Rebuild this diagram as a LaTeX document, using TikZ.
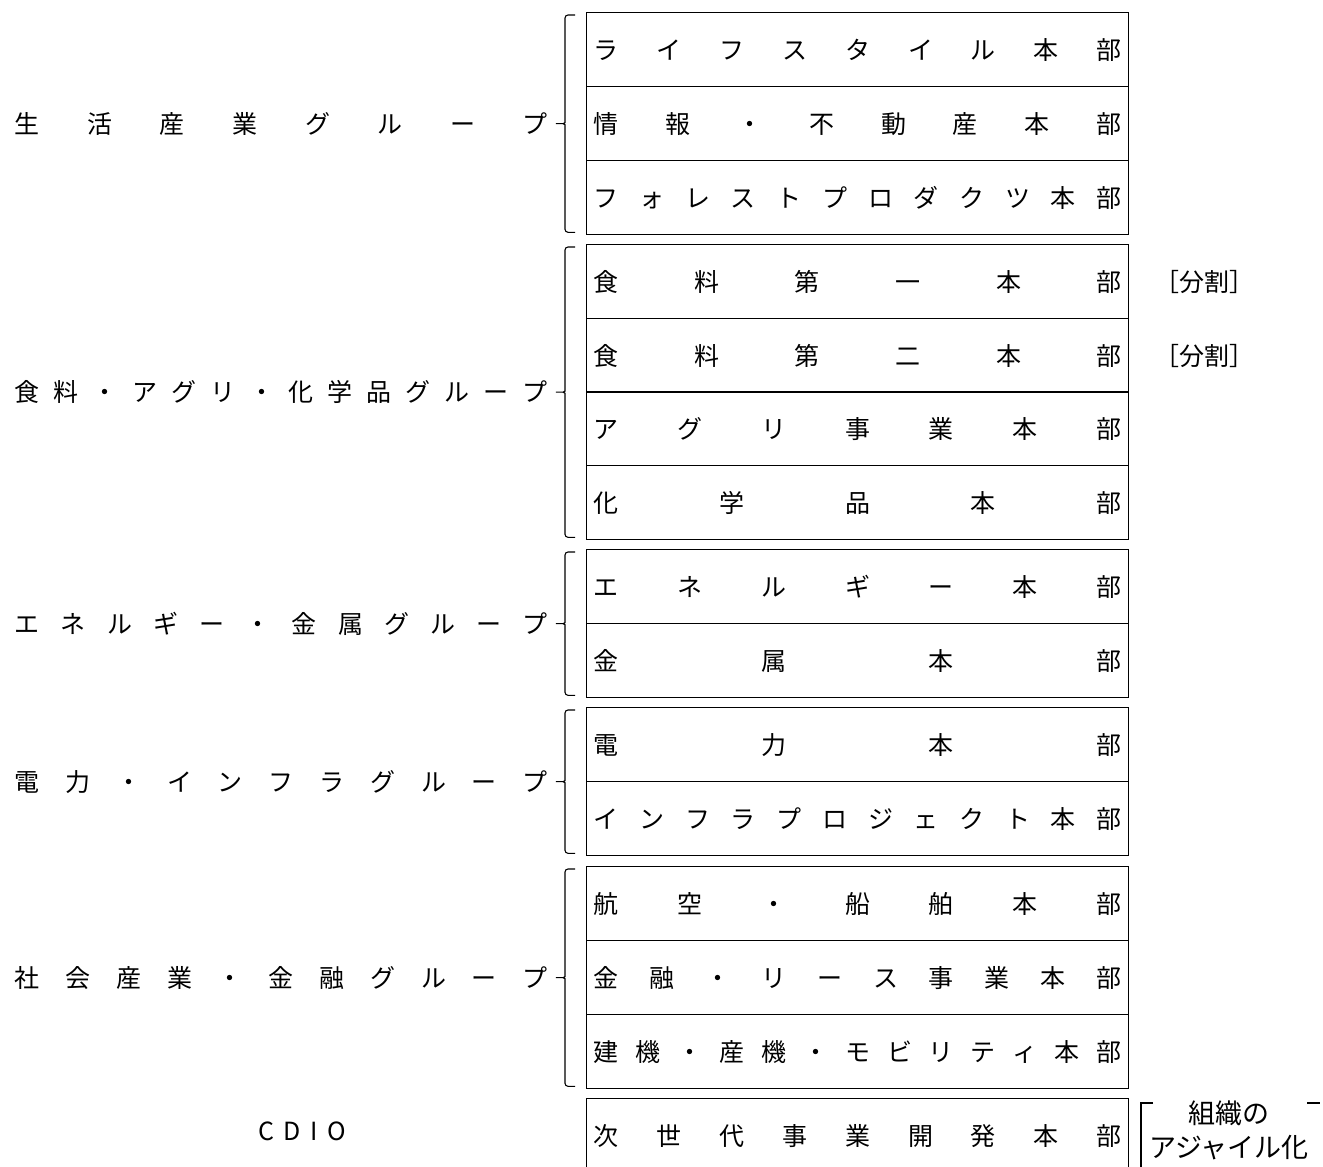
\documentclass[tikz,border=0pt]{standalone}
\usepackage{fontspec}
\setmainfont{Noto Sans CJK JP}
\usetikzlibrary{positioning,calc}

\newcommand\spreadtxt[1]{\expandafter\spreadchr#1\relax\relax}
\def\spreadchr#1#2{#1\ifx\relax#2\else\hfill\expandafter\spreadchr\expandafter#2\fi}

\tikzset{
  unitbox/.style={draw,line width=1.3pt,anchor=north west,minimum width=542pt,minimum height=74pt,inner sep=0pt},
  grouplabel/.style={inner sep=0pt},
  brace line/.style={line width=1.1pt,rounded corners=3pt},
}

\newcommand\grpbrace[4]{%
  \coordinate (bt) at ($(#1.north west)+(-11,3)$);
  \coordinate (bb) at ($(#2.south west)+(-11,-3)$);
  \coordinate (bm) at ($(bt)!0.5!(bb)+(-21,0)$);
  \draw[brace line] (bt) -- ++(-10,0) -- ($(bm)+(11,-4)$)
    .. controls ($(bm)+(11,-1)$) and ($(bm)+(9,0)$) .. ($(bm)+(6,0)$) -- (bm)
    -- ($(bm)+(6,0)$) .. controls ($(bm)+(9,0)$) and ($(bm)+(11,1)$) .. ($(bm)+(11,4)$)
    -- ($(bb)+(-10,0)$) -- (bb);
  \node[grouplabel,left=6pt of bm] (#3) {\makebox[533pt]{\spreadtxt{#4}}};
}

\begin{document}
\begin{tikzpicture}[x=1pt,y=-1pt,font=\fontsize{25}{30}\selectfont]
\useasboundingbox (0,0) rectangle (1323,1167);
\clip (0,0) rectangle (1323,1167);
\foreach \n/\y/\t in {u1/12/ライフスタイル本部, u2/86/情報・不動産本部, u3/160/フォレストプロダクツ本部,
    u4/244/食料第一本部, u5/318/食料第二本部, u6/391/アグリ事業本部, u7/465/化学品本部,
    u8/549/エネルギー本部, u9/623/金属本部,
    u10/707/電力本部, u11/781/インフラプロジェクト本部,
    u12/866/航空・船舶本部, u13/940/金融・リース事業本部, u14/1014/建機・産機・モビリティ本部,
    u15/1098/次世代事業開発本部}
  \node[unitbox] (\n) at (586,\y) {\makebox[528pt]{\spreadtxt{\t}}};
\grpbrace{u1}{u3}{g1}{生活産業グループ}
\grpbrace{u4}{u7}{g2}{食料・アグリ・化学品グループ}
\grpbrace{u8}{u9}{g3}{エネルギー・金属グループ}
\grpbrace{u10}{u11}{g4}{電力・インフラグループ}
\grpbrace{u12}{u14}{g5}{社会産業・金融グループ}
\node[grouplabel] (cdio) at ($(u15.west)+(-284,-4)$) {\makebox[88pt]{\spreadtxt{CDIO}}};
\node[anchor=west] (split1) at ($(u4.east)+(22,0)$) {［分割］};
\node[anchor=west] (split2) at ($(u5.east)+(22,0)$) {［分割］};
\node[align=center,inner sep=0pt,font=\fontsize{27}{34}\selectfont] (agile) at (1229,1130) {組織の\\アジャイル化};
\draw[line width=1.1pt] (1153,1103) -- (1141,1103) -- (1141,1175);
\draw[line width=1.1pt] (1307,1103) -- (1320,1103);
\end{tikzpicture}
\end{document}
